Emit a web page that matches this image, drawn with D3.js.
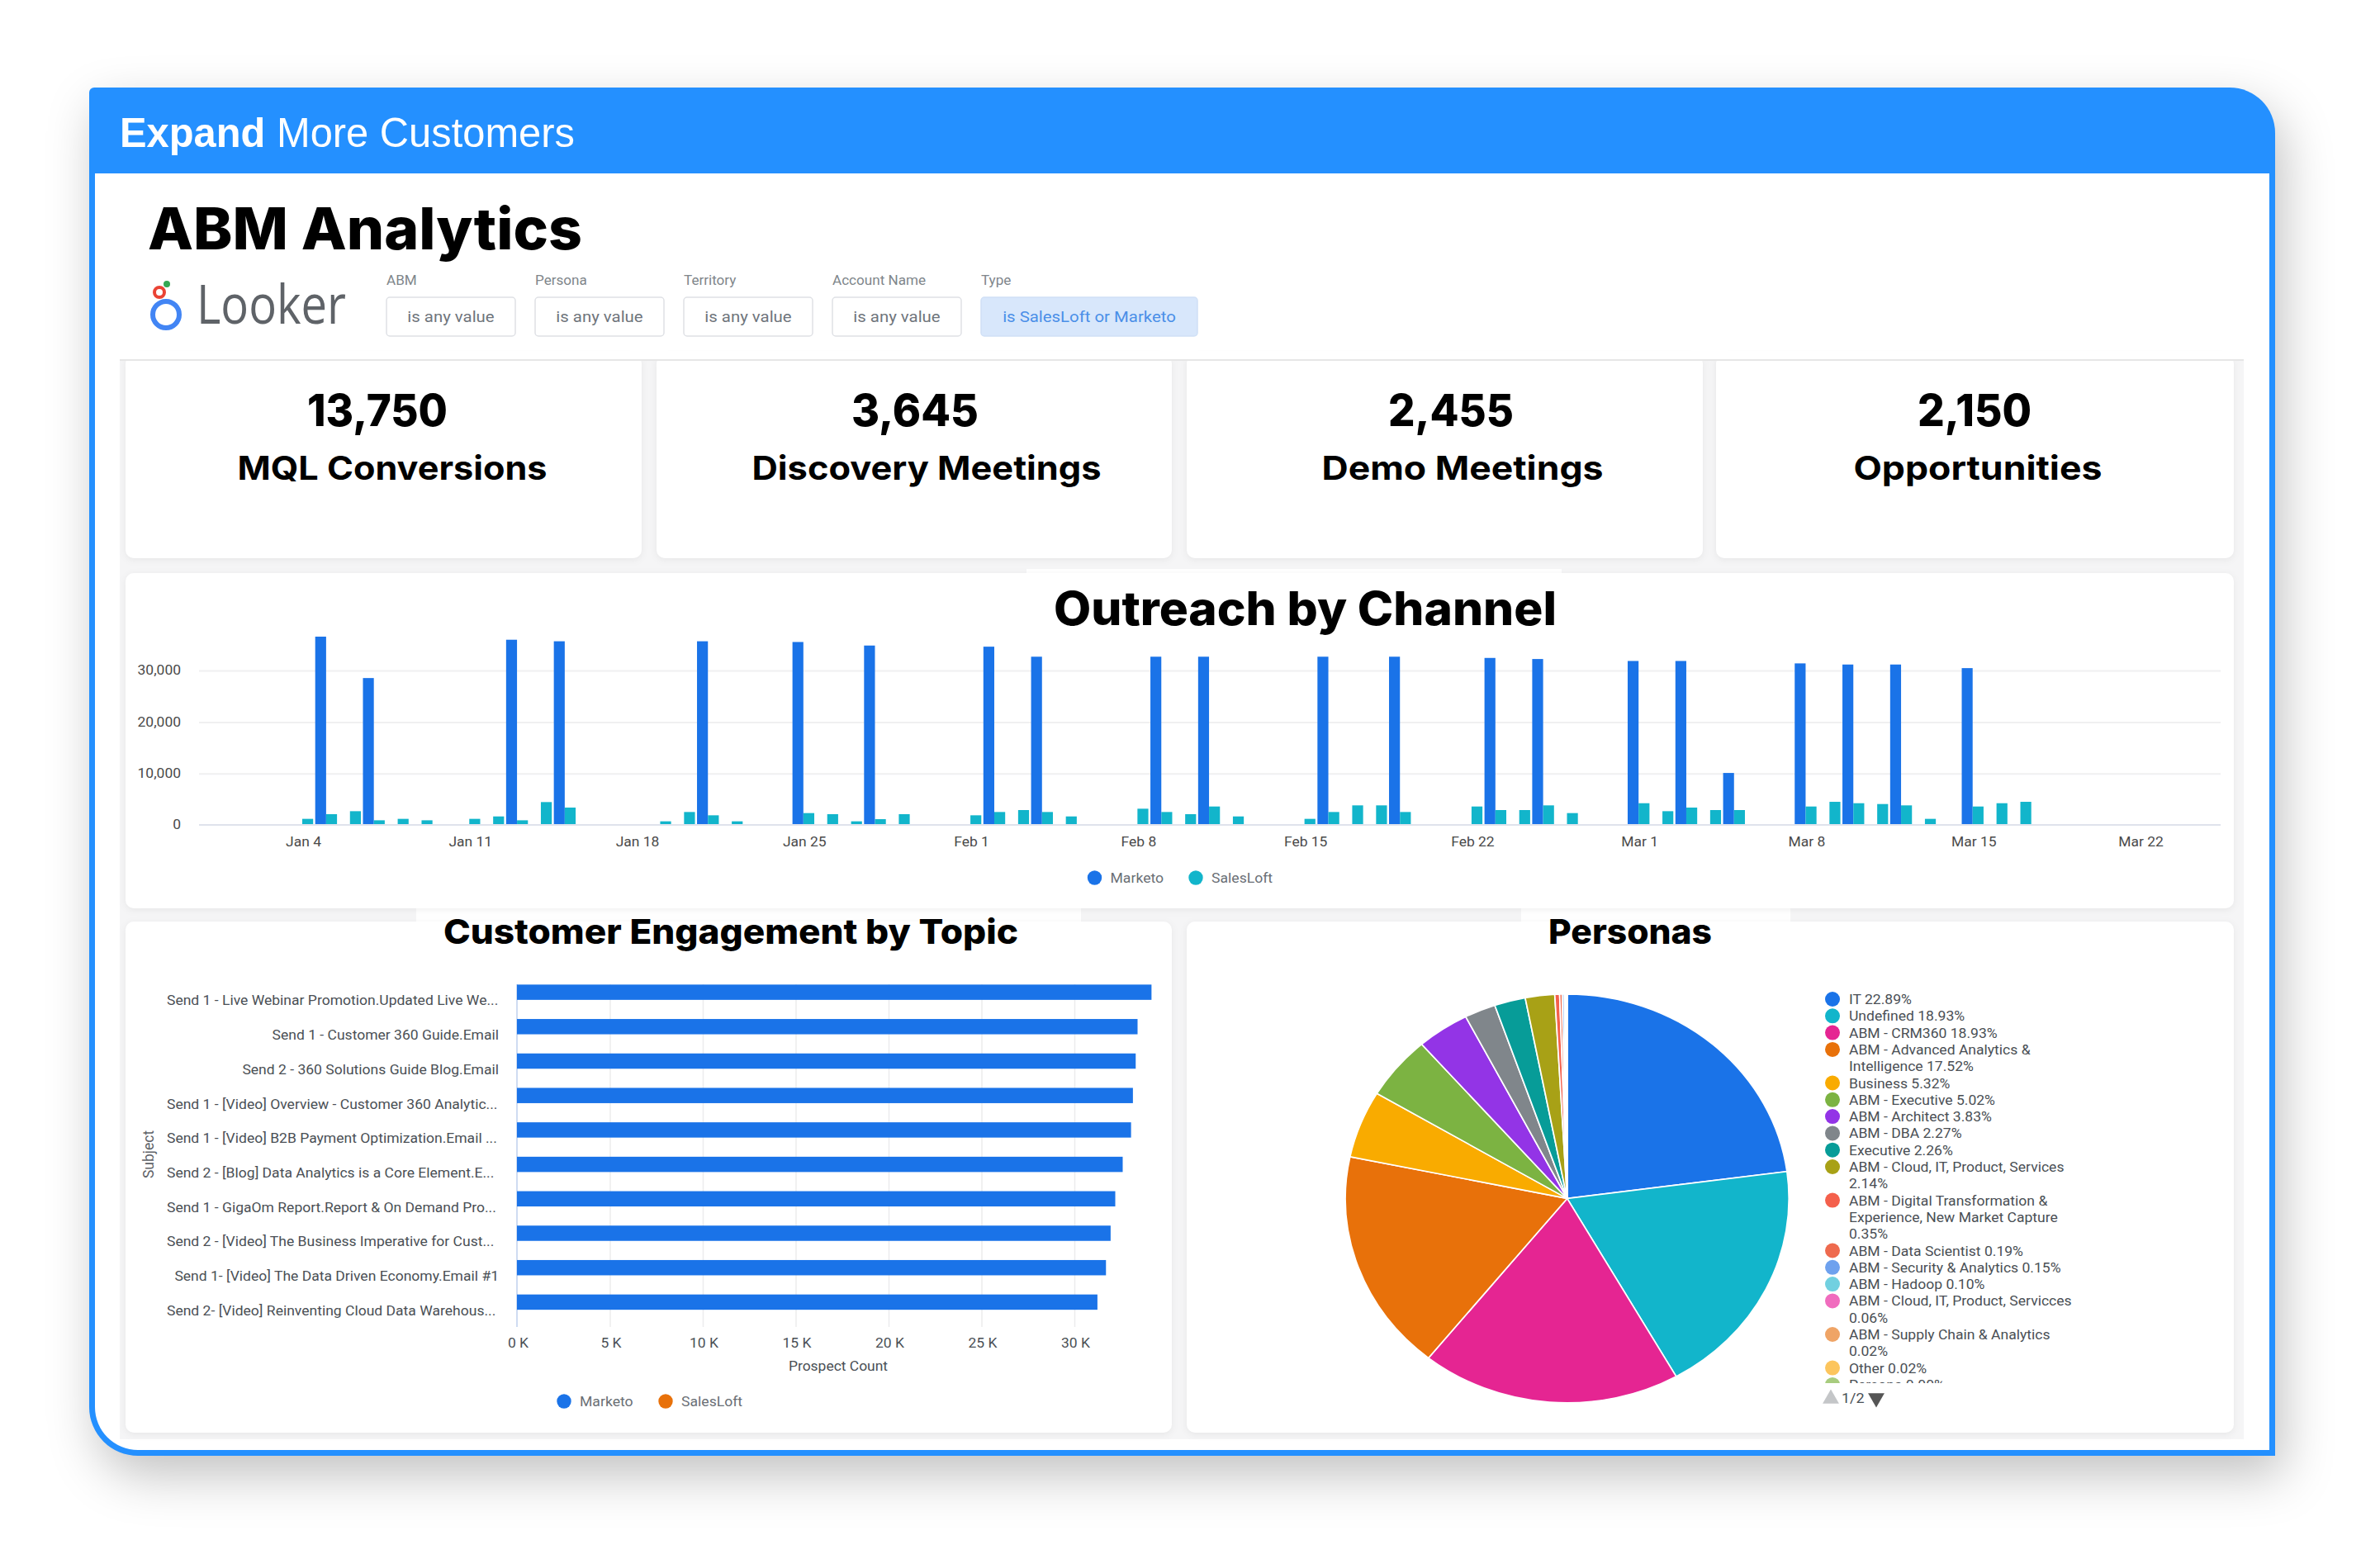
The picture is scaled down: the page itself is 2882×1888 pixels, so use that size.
<!DOCTYPE html>
<html>
<head>
<meta charset="utf-8">
<script src="https://cdn.jsdelivr.net/npm/d3@7"></script>
<style>
  html, body { margin: 0; padding: 0; background: #fff; }
  svg { display: block; }
  text { font-family: Roboto, sans-serif; }
  .heavy { font-family: Inter, "Open Sans", sans-serif; font-weight: 800; fill: #000; }
</style>
</head>
<body>
<svg id="page" width="2882" height="1888"></svg>
<script>
// ---- values ----
var kpiValues = ["13,750", "3,645", "2,455", "2,150"];
var kpiLabels = ["MQL Conversions", "Discovery Meetings", "Demo Meetings", "Opportunities"];

var filterLabels = ["ABM", "Persona", "Territory", "Account Name", "Type"];
var filterValues = ["is any value", "is any value", "is any value", "is any value", "is SalesLoft or Marketo"];

// days since Jan 4 that have a Marketo bar, and their heights
var marketoDays = [1, 3, 9, 11, 17, 21, 24, 29, 31, 36, 38, 43, 46, 50, 52, 56, 58, 60, 63, 65, 67, 70];
var marketoSends = [36600, 28550, 36000, 35700, 35700, 35560, 34870, 34650, 32700, 32700, 32700, 32700, 32700,
  32460, 32250, 31870, 31870, 10100, 31400, 31180, 31180, 30480];
var salesloftDays = [0, 1, 2, 3, 4, 5, 7, 8, 9, 10, 11, 15, 16, 17, 18, 21, 22, 23, 24, 25, 28, 29, 30, 31, 32,
  35, 36, 37, 38, 39, 42, 43, 44, 45, 46, 49, 50, 51, 52, 53, 56, 57, 58, 59, 60, 63, 64, 65, 66, 67, 68, 70, 71, 72];
var salesloftSends = [1180, 2090, 2670, 900, 1180, 900, 1180, 1650, 900, 4440, 3370, 700, 2510, 1870, 700, 2300,
  2090, 700, 1120, 2090, 1870, 2510, 2890, 2510, 1650, 3150, 2510, 2090, 3580, 1650, 1180, 2510, 3800, 3800, 2510,
  3580, 2890, 2890, 3800, 2300, 4220, 2670, 3370, 2890, 2890, 3580, 4490, 4220, 4060, 3800, 1180, 3580, 4220, 4490];
var outreachTicks = [0, 7, 14, 21, 28, 35, 42, 49, 56, 63, 70, 77];

var subjects = [
  "Send 1 - Live Webinar Promotion.Updated Live We...",
  "Send 1 - Customer 360 Guide.Email",
  "Send 2 - 360 Solutions Guide Blog.Email",
  "Send 1 - [Video] Overview - Customer 360 Analytic...",
  "Send 1 - [Video] B2B Payment Optimization.Email ...",
  "Send 2 - [Blog] Data Analytics is a Core Element.E...",
  "Send 1 - GigaOm Report.Report & On Demand Pro...",
  "Send 2 - [Video] The Business Imperative for Cust...",
  "Send 1- [Video] The Data Driven Economy.Email #1",
  "Send 2- [Video] Reinventing Cloud Data Warehous..."
];
var subjectMarketo = [34150, 33400, 33300, 33150, 33050, 32600, 32200, 31950, 31700, 31240];
var subjectSalesloft = [0, 0, 0, 0, 0, 0, 0, 0, 0, 0];

var personaNames = ["IT", "Undefined", "ABM - CRM360", "ABM - Advanced Analytics &\nIntelligence", "Business",
  "ABM - Executive", "ABM - Architect", "ABM - DBA", "Executive", "ABM - Cloud, IT, Product, Services\n",
  "ABM - Digital Transformation &\nExperience, New Market Capture\n", "ABM - Data Scientist",
  "ABM - Security & Analytics", "ABM - Hadoop", "ABM - Cloud, IT, Product, Servicces\n",
  "ABM - Supply Chain & Analytics\n", "Other", "Persona"];
var personaShares = [22.89, 18.93, 18.93, 17.52, 5.32, 5.02, 3.83, 2.27, 2.26, 2.14, 0.35, 0.19, 0.15, 0.10, 0.06, 0.02, 0.02, 0.00];
var personaColors = ["#1a73e8", "#12b5cb", "#e52592", "#e8710a", "#f9ab00", "#7cb342", "#9334e6", "#80868b", "#079c98",
  "#a8a116", "#f4604c", "#ee6a4e", "#6ea1ee", "#71d0e0", "#f06cbe", "#efa466", "#fcc55d", "#a8cc7e"];

var blue = "#1a73e8", cyan = "#12b5cb", orange = "#e8710a", frameBlue = "#2490ff";
var tickColor = "#4a4a4a";

var svg = d3.select("#page");

// the source screenshot is stretched sideways, so text gets widened to suit
function stretch(sel, k) {
  sel.each(function() {
    this.setAttribute("lengthAdjust", "spacingAndGlyphs");
    this.setAttribute("textLength", this.getComputedTextLength() * (k || 1.09));
  });
  return sel;
}
function fit(sel, w) {
  return sel.attr("lengthAdjust", "spacingAndGlyphs").attr("textLength", w);
}

// ---- frame ----
svg.append("path")
  .attr("d", "M114,106 H2700 A55,55 0 0 1 2755,161 V1763 H167 A59,59 0 0 1 108,1704 V112 A6,6 0 0 1 114,106 Z")
  .attr("fill", frameBlue)
  .style("filter", "drop-shadow(10px 24px 30px rgba(0,0,0,.24))");
svg.append("path")
  .attr("d", "M115,210 H2748 V1756 H167 A52,52 0 0 1 115,1704 Z")
  .attr("fill", "#fff");

var head = svg.append("text").attr("x", 145).attr("y", 178).attr("fill", "#fff")
  .style("font-family", "'Liberation Sans', Arial, sans-serif").style("font-size", "50px");
head.append("tspan").attr("font-weight", 700).text("Expand");
head.append("tspan").text(" More Customers");
fit(head, 551);

fit(svg.append("text").attr("class", "heavy").attr("x", 179).attr("y", 302).style("font-size", "70px").text("ABM Analytics"), 526);

// looker logo
var logo = svg.append("g");
logo.append("circle").attr("cx", 201).attr("cy", 381).attr("r", 16).attr("fill", "none").attr("stroke", "#4285f4").attr("stroke-width", 6);
logo.append("circle").attr("cx", 193).attr("cy", 354).attr("r", 6).attr("fill", "none").attr("stroke", "#ea4335").attr("stroke-width", 4);
logo.append("circle").attr("cx", 202).attr("cy", 344).attr("r", 4).attr("fill", "#34a853");
fit(logo.append("text").attr("x", 238).attr("y", 392).attr("fill", "#5f6368")
  .style("font-family", "'Open Sans', sans-serif").style("font-size", "66px").text("Looker"), 181);

// filters
var filterX = [468, 648, 828, 1008, 1188], filterW = [156, 156, 156, 156, 262];
filterLabels.forEach(function(d, i) {
  stretch(svg.append("text").attr("x", filterX[i]).attr("y", 345).attr("fill", "#80868b").style("font-size", "15.7px").text(d));
  svg.append("rect").attr("x", filterX[i]).attr("y", 360).attr("width", filterW[i]).attr("height", 47).attr("rx", 4)
    .attr("fill", i == 4 ? "#d8e7fb" : "#fff").attr("stroke", i == 4 ? "#d0e0f6" : "#dfe1e5").attr("stroke-width", 1.5);
  stretch(svg.append("text").attr("x", filterX[i] + filterW[i] / 2).attr("y", 390).attr("text-anchor", "middle")
    .attr("fill", i == 4 ? "#4a8fe8" : "#6f757c").style("font-size", "18.7px").text(filterValues[i]));
});

// ---- dashboard ground and cards ----
svg.append("rect").attr("x", 145).attr("y", 435).attr("width", 2572).attr("height", 1308).attr("fill", "#f5f5f6");
var patches = [[1243, 689, 648, 12], [504, 1098, 805, 22], [1842, 1098, 326, 22]];
patches.forEach(function(p) {
  svg.append("rect").attr("x", p[0]).attr("y", p[1]).attr("width", p[2]).attr("height", p[3]).attr("fill", "#fff");
});
function card(x, y, w, h) {
  svg.append("path")
    .attr("d", `M${x},${y + 10}a10,10 0 0 1 10,-10h${w - 20}a10,10 0 0 1 10,10v${h - 20}a10,10 0 0 1 -10,10h-${w - 20}a10,10 0 0 1 -10,-10z`)
    .attr("fill", "#fff")
    .style("filter", "drop-shadow(0 2px 4px rgba(0,0,0,.06))");
}
var kpiX = [152, 795, 1437, 2078], kpiW = [625, 624, 625, 627];
kpiX.forEach(function(x, i) { card(x, 430, kpiW[i], 246); });
svg.append("rect").attr("x", 145).attr("y", 425).attr("width", 2572).attr("height", 10).attr("fill", "#fff");
svg.append("rect").attr("x", 145).attr("y", 435).attr("width", 2572).attr("height", 2).attr("fill", "#e6e6e6");
card(152, 694, 2553, 406);
card(152, 1116, 1267, 619);
card(1437, 1116, 1268, 619);

var kpiNumX = [457, 1108, 1757, 2391], kpiNumW = [170, 154, 152, 138];
var kpiTextX = [475, 1122, 1771, 2395], kpiTextW = [375, 423, 341, 301];
kpiValues.forEach(function(d, i) {
  fit(svg.append("text").attr("class", "heavy").attr("x", kpiNumX[i]).attr("y", 516).attr("text-anchor", "middle")
    .style("font-size", "54px").text(d), kpiNumW[i]);
  fit(svg.append("text").attr("class", "heavy").attr("x", kpiTextX[i]).attr("y", 581).attr("text-anchor", "middle")
    .style("font-size", "40px").style("font-weight", 700).text(kpiLabels[i]), kpiTextW[i]);
});

// ---- outreach by channel ----
fit(svg.append("text").attr("class", "heavy").attr("x", 1276).attr("y", 757).style("font-size", "56px").text("Outreach by Channel"), 609);

var jan4 = Date.UTC(2021, 0, 4), dayMs = 864e5;
function dayDate(n) { return new Date(jan4 + n * dayMs); }
var x = d3.scaleUtc().domain([dayDate(0), dayDate(77)]).range([366, 2591]);
var y = d3.scaleLinear().domain([0, 37000]).range([999, 768.5]);
var barW = 13.2;

var grid = svg.append("g").attr("transform", "translate(241,0)")
  .call(d3.axisLeft(y).tickValues([10000, 20000, 30000]).tickSize(-2448).tickFormat(""));
grid.select(".domain").remove();
grid.selectAll("line").attr("stroke", "#f0f0f1").attr("stroke-width", 2);

svg.selectAll(".bar-marketo").data(marketoDays).join("rect")
  .attr("class", "bar-marketo")
  .attr("x", d => x(dayDate(d)) - barW)
  .attr("width", barW)
  .attr("y", (d, i) => y(marketoSends[i]))
  .attr("height", (d, i) => y(0) - y(marketoSends[i]))
  .attr("fill", blue);
svg.selectAll(".bar-salesloft").data(salesloftDays).join("rect")
  .attr("class", "bar-salesloft")
  .attr("x", d => x(dayDate(d)))
  .attr("width", barW)
  .attr("y", (d, i) => y(salesloftSends[i]))
  .attr("height", (d, i) => y(0) - y(salesloftSends[i]))
  .attr("fill", cyan);

svg.append("line").attr("x1", 241).attr("x2", 2689).attr("y1", y(0)).attr("y2", y(0)).attr("stroke", "#dfe3ec").attr("stroke-width", 2);

var yAxis = svg.append("g").attr("transform", "translate(219,0)")
  .call(d3.axisLeft(y).tickValues([0, 10000, 20000, 30000]).tickSize(0).tickPadding(0).tickFormat(d3.format(",")));
yAxis.select(".domain").remove();
yAxis.selectAll("text").attr("fill", tickColor).style("font-size", "16px").attr("dy", "0.3em");
stretch(yAxis.selectAll("text"));

var xAxis = svg.append("g").attr("transform", "translate(1,1014)")
  .call(d3.axisBottom(x).tickValues(outreachTicks.map(dayDate)).tickSize(0).tickPadding(0).tickFormat(d3.utcFormat("%b %-d")));
xAxis.select(".domain").remove();
xAxis.selectAll("text").attr("fill", tickColor).style("font-size", "16px");
stretch(xAxis.selectAll("text"));

function legendItem(cx, cy, color, label) {
  svg.append("circle").attr("cx", cx).attr("cy", cy).attr("r", 8.7).attr("fill", color);
  stretch(svg.append("text").attr("x", cx + 19).attr("y", cy + 6).attr("fill", "#6a6f75").style("font-size", "16px").text(label), 1.1);
}
legendItem(1325.5, 1063, blue, "Marketo");
legendItem(1448, 1063, cyan, "SalesLoft");

// ---- customer engagement by topic ----
fit(svg.append("text").attr("class", "heavy").attr("x", 537).attr("y", 1143).style("font-size", "41px").text("Customer Engagement by Topic"), 696);

var hx = d3.scaleLinear().domain([0, 30000]).range([626, 1301]);
var hy = d3.scaleBand().domain(subjects).range([1190, 1607]);
var hGroup = d3.scaleBand().domain(["Marketo", "SalesLoft"]).range([0, hy.bandwidth()]).paddingOuter(0.127);

var hGrid = svg.append("g").attr("transform", "translate(0,1607)")
  .call(d3.axisBottom(hx).tickValues([5000, 10000, 15000, 20000, 25000, 30000]).tickSize(-415).tickFormat(""));
hGrid.select(".domain").remove();
hGrid.selectAll("line").attr("stroke", "#ececed").attr("stroke-width", 1.5);
svg.append("line").attr("x1", hx(0)).attr("x2", hx(0)).attr("y1", 1192).attr("y2", 1607).attr("stroke", "#cfdcf2").attr("stroke-width", 2);

svg.selectAll(".hbar-marketo").data(subjects).join("rect")
  .attr("class", "hbar-marketo")
  .attr("x", hx(0))
  .attr("y", d => hy(d) + hGroup("Marketo"))
  .attr("width", (d, i) => hx(subjectMarketo[i]) - hx(0))
  .attr("height", hGroup.bandwidth())
  .attr("fill", blue);
svg.selectAll(".hbar-salesloft").data(subjects).join("rect")
  .attr("class", "hbar-salesloft")
  .attr("x", hx(0))
  .attr("y", d => hy(d) + hGroup("SalesLoft"))
  .attr("width", (d, i) => hx(subjectSalesloft[i]) - hx(0))
  .attr("height", hGroup.bandwidth())
  .attr("fill", orange);

var hLeft = svg.append("g").attr("transform", "translate(604,1.5)")
  .call(d3.axisLeft(hy).tickSize(0).tickPadding(0));
hLeft.select(".domain").remove();
hLeft.selectAll("text").attr("fill", "#4a4f55").style("font-size", "16px");
// truncated labels start flush left in the original
hLeft.selectAll("text").filter(d => d.endsWith("...")).attr("text-anchor", "start").attr("x", -402);
stretch(hLeft.selectAll("text"), 1.095);

var hBottom = svg.append("g").attr("transform", "translate(1,1621)")
  .call(d3.axisBottom(hx).tickValues([0, 5000, 10000, 15000, 20000, 25000, 30000]).tickSize(0).tickPadding(0).tickFormat(d => d / 1000 + " K"));
hBottom.select(".domain").remove();
hBottom.selectAll("text").attr("fill", "#4a4f55").style("font-size", "16px");
stretch(hBottom.selectAll("text"));

stretch(svg.append("text").attr("x", 1015).attr("y", 1660).attr("text-anchor", "middle").attr("fill", "#4a4f55")
  .style("font-size", "16px").text("Prospect Count"));
svg.append("text").attr("transform", "translate(186,1398) rotate(-90)").attr("text-anchor", "middle").attr("fill", "#5f6368")
  .style("font-size", "17.5px").text("Subject");
legendItem(683, 1697, blue, "Marketo");
legendItem(806, 1697, orange, "SalesLoft");

// ---- personas ----
fit(svg.append("text").attr("class", "heavy").attr("x", 1875).attr("y", 1143).style("font-size", "41px").text("Personas"), 198);

var pie = d3.pie().sort(null).value(d => d);
var arc = d3.arc().innerRadius(0).outerRadius(247.5);
svg.append("g").attr("transform", "translate(1897.7,1451.4) scale(1.085,1)")
  .selectAll("path").data(pie(personaShares)).join("path")
  .attr("d", arc)
  .attr("fill", (d, i) => personaColors[i])
  .attr("stroke", "#fff")
  .attr("stroke-width", 1.6);

svg.append("clipPath").attr("id", "legend-clip").append("rect")
  .attr("x", 2190).attr("y", 1195).attr("width", 360).attr("height", 480);
var pLegend = svg.append("g").attr("clip-path", "url(#legend-clip)");
var lineNo = 0, lineStep = 20.3, lineTop = 1210;
personaNames.forEach(function(name, i) {
  var lines = (name + " " + personaShares[i].toFixed(2) + "%").split("\n");
  pLegend.append("circle").attr("cx", 2219).attr("cy", lineTop + lineNo * lineStep).attr("r", 9).attr("fill", personaColors[i]);
  lines.forEach(function(line) {
    stretch(pLegend.append("text").attr("x", 2239).attr("y", lineTop + lineNo * lineStep + 6)
      .attr("fill", "#4a4f55").style("font-size", "16.5px").text(line.trim()), 1.063);
    lineNo++;
  });
});

var sym = d3.symbol().type(d3.symbolTriangle).size(170);
svg.append("path").attr("d", sym()).attr("transform", "translate(2217,1694)").attr("fill", "#c4c6c8");
svg.append("path").attr("d", sym()).attr("transform", "translate(2272,1693) rotate(180)").attr("fill", "#555");
stretch(svg.append("text").attr("x", 2230).attr("y", 1699).attr("fill", "#4a4f55").style("font-size", "16.5px").text("1/2"));
</script>
</body>
</html>
